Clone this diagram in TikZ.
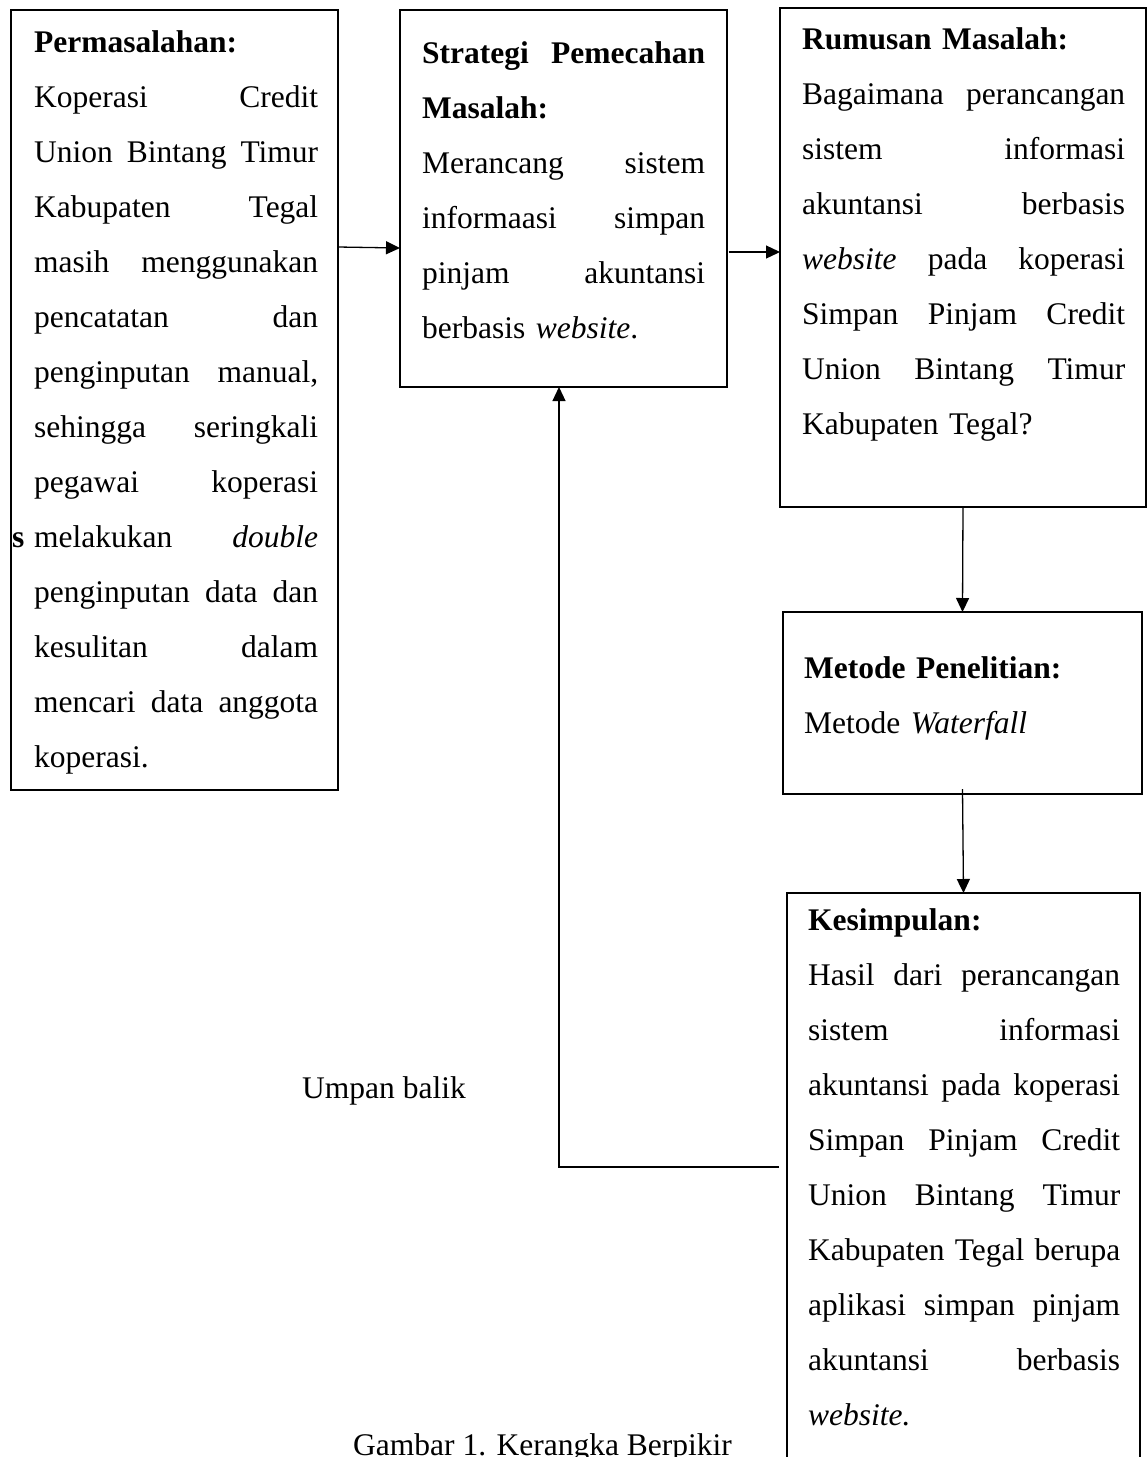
\documentclass[tikz,border=0pt]{standalone}
\usepackage{fontspec}
\setmainfont{Liberation Serif}
\usetikzlibrary{arrows.meta,calc}
\newcommand{\J}[1]{\makebox[\hsize][s]{\spaceskip=0pt\xspaceskip=0pt #1}}
\newcommand{\fs}{\rule{0pt}{25pt}}
\begin{document}
\begin{tikzpicture}[x=1pt,y=-1pt,
  boxstyle/.style={draw,line width=2.4pt,inner sep=0pt,outer sep=0pt,anchor=north west},
  txtstyle/.style={inner sep=0pt,anchor=north west,align=left,font=\fontsize{31.5}{55}\selectfont},
  lbl/.style={inner sep=0pt,anchor=base west,font=\fontsize{31.5}{55}\selectfont},
  tip/.style={-{Triangle[length=14pt,width=13pt]}},
  arrstyle/.style={line width=1.3pt,tip}]
\clip (0,0) rectangle (1147,1457);
\fill[white] (0,0) rectangle (1147,1457);

% boxes
\node[boxstyle,minimum width=327pt,minimum height=780pt] (b1) at (11,10) {};
\node[boxstyle,minimum width=327pt,minimum height=377pt] (b2) at (400,10) {};
\node[boxstyle,minimum width=366pt,minimum height=499pt] (b3) at (780,8) {};
\node[boxstyle,minimum width=359pt,minimum height=182pt] (b4) at (783,612) {};
\node[boxstyle,minimum width=353pt,minimum height=620pt] (b5) at (787,893) {};

% texts
\node[txtstyle,text width=284pt] (t1) at (34,27) {\noindent\fs\textbf{Permasalahan:}\\
\J{Koperasi Credit}\\
\J{Union Bintang Timur}\\
\J{Kabupaten Tegal}\\
\J{masih menggunakan}\\
\J{pencatatan dan}\\
\J{penginputan manual,}\\
\J{sehingga seringkali}\\
\J{pegawai koperasi}\\
\J{melakukan \textit{double}}\\
\J{penginputan data dan}\\
\J{kesulitan dalam}\\
\J{mencari data anggota}\\
koperasi.};

\node[txtstyle,text width=283pt] (t2) at (422,38) {\noindent\fs\J{\textbf{Strategi Pemecahan}}\\
\textbf{Masalah:}\\
\J{Merancang sistem}\\
\J{informaasi simpan}\\
\J{pinjam akuntansi}\\
berbasis \textit{website}.};

\node[txtstyle,text width=323pt] (t3) at (802,24) {\noindent\fs\textbf{Rumusan Masalah:}\\
\J{Bagaimana perancangan}\\
\J{sistem informasi}\\
\J{akuntansi berbasis}\\
\J{\textit{website} pada koperasi}\\
\J{Simpan Pinjam Credit}\\
\J{Union Bintang Timur}\\
Kabupaten Tegal?};

\node[txtstyle,text width=330pt] (t4) at (804,653) {\noindent\fs\textbf{Metode Penelitian:}\\
Metode \textit{Waterfall}};

\node[txtstyle,text width=312pt] (t5) at (808,905) {\noindent\fs\textbf{Kesimpulan:}\\
\J{Hasil dari perancangan}\\
\J{sistem informasi}\\
\J{akuntansi pada koperasi}\\
\J{Simpan Pinjam Credit}\\
\J{Union Bintang Timur}\\
\J{Kabupaten Tegal berupa}\\
\J{aplikasi simpan pinjam}\\
\J{akuntansi berbasis}\\
\textit{website.}};

\node[lbl] (ub) at (302,1098) {Umpan balik};
\node[lbl] (cap) at (353,1455) {Gambar 1. Kerangka Berpikir};
\node[lbl,font=\fontsize{31.5}{55}\selectfont\bfseries] (ss) at (12,547) {s};

% connectors
\coordinate (ya) at (0,247);
\coordinate (yb) at (0,248);
\coordinate (yc) at (0,252);
\draw[arrstyle] (b1.east |- ya) -- (b2.west |- yb);
\draw[arrstyle] ($(b2.east |- yc)+(1.5,0)$) -- (b3.west |- yc);
\draw[arrstyle] (b3.south) -- (b4.north);
\draw[arrstyle] ($(b4.south)+(0,-5)$) -- (b5.north);
\coordinate (fbs) at (779,1167);
\coordinate (fbc) at (559,1167);
\draw[line width=1.2pt,tip] (fbs) -- (fbc) -- (fbc |- b2.south);
\end{tikzpicture}
\end{document}
